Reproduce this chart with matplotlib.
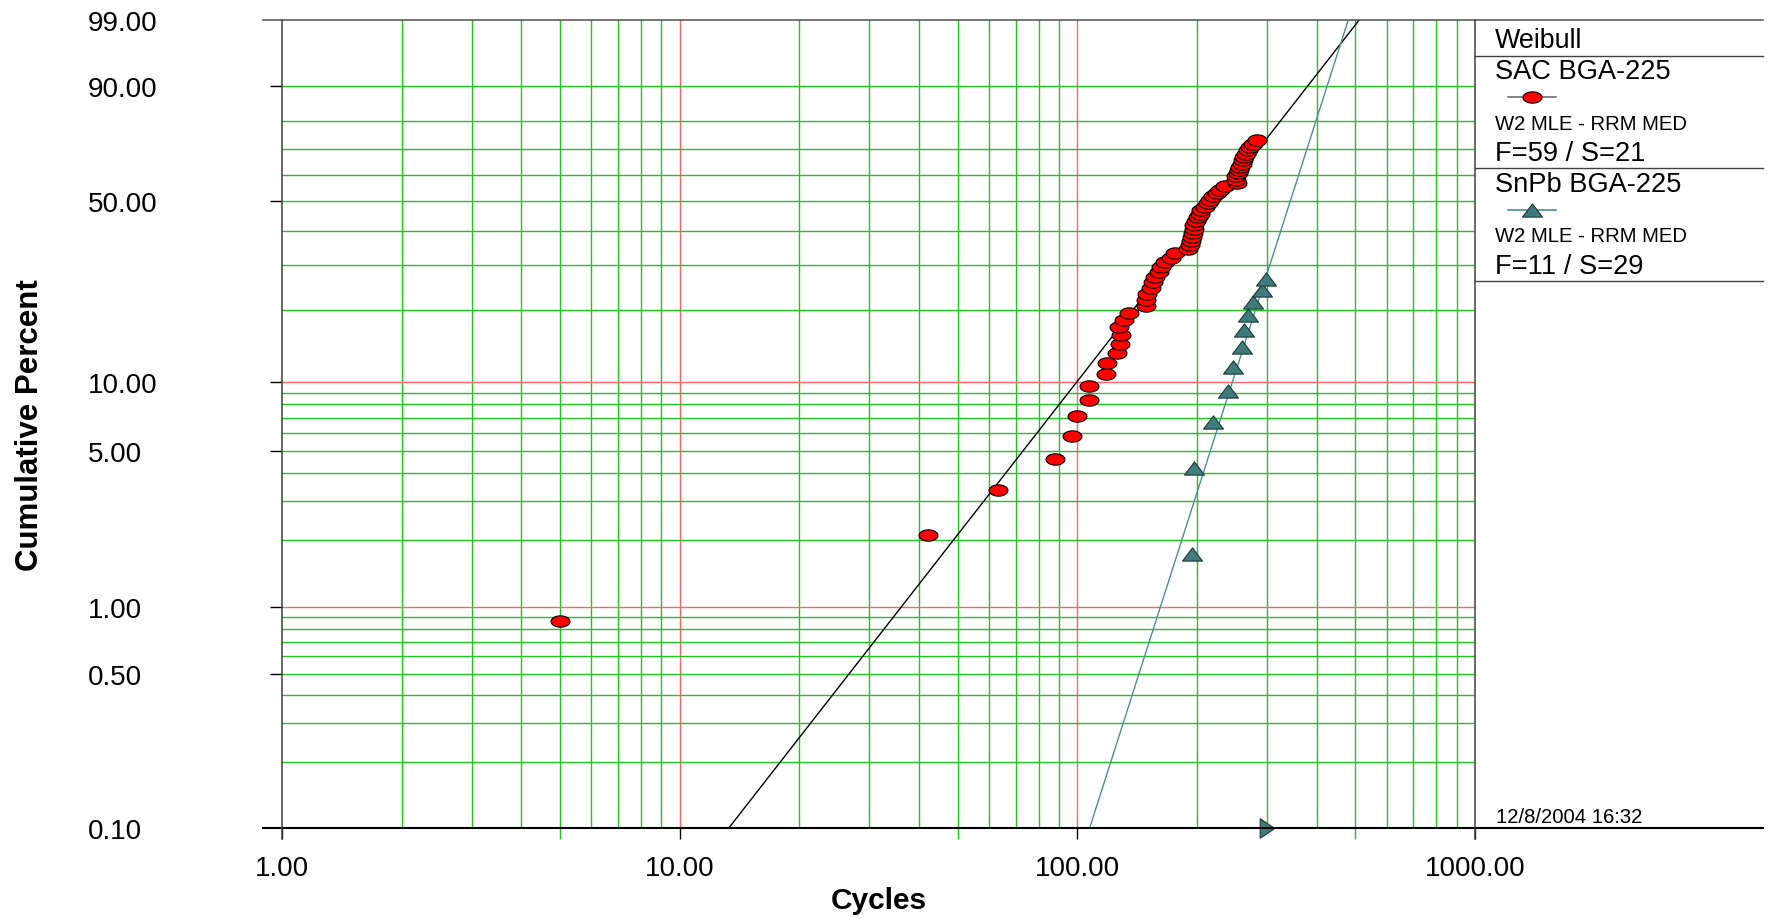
import numpy as np
import matplotlib
matplotlib.use("Agg")
import matplotlib.pyplot as plt
from matplotlib.path import Path

plt.rcParams['font.family'] = ['Liberation Sans', 'DejaVu Sans']

# SAC BGA-225: failure cycles and median-rank plotting positions (%)
sac_cycles = [5, 42, 63, 88, 97, 100, 107, 107, 118, 119,
              126, 128, 128.5, 127, 131, 135, 149, 149, 150, 153,
              155, 157, 160, 162, 166, 172, 176, 190, 192, 193,
              194, 195, 196, 197, 199, 201, 203, 205, 209, 213,
              216, 219, 225, 229, 235, 252, 250, 251, 254, 255,
              257, 259, 261, 263, 265, 269, 271, 277, 283]
sac_pct = [0.87, 2.11, 3.36, 4.60, 5.85, 7.09, 8.33, 9.58, 10.82, 12.06,
           13.31, 14.55, 15.80, 17.04, 18.28, 19.53, 20.77, 22.01, 23.26, 24.50,
           25.75, 26.99, 28.23, 29.48, 30.72, 31.97, 33.21, 34.45, 35.70, 36.94,
           38.18, 39.43, 40.67, 41.92, 43.16, 44.40, 45.65, 46.89, 48.13, 49.38,
           50.62, 51.87, 53.11, 54.35, 55.60, 56.84, 58.08, 59.33, 60.57, 61.82,
           63.06, 64.30, 65.55, 66.79, 68.03, 69.28, 70.52, 71.77, 73.01]

# SnPb BGA-225
snpb_cycles = [194, 197, 219, 239, 247, 259, 262, 268, 276, 291, 299]
snpb_pct = [1.73, 4.21, 6.68, 9.16, 11.63, 14.11, 16.58, 19.06, 21.53, 24.01, 26.49]
suspension_cycles = [300]

# 2-parameter Weibull fits (beta, eta)
sac_fit = (2.31, 264.0)
snpb_fit = (5.63, 366.0)

y_major = [0.1, 0.5, 1, 5, 10, 50, 90, 99]
y_labels = ['0.10', '0.50', '1.00', '5.00', '10.00', '50.00', '90.00', '99.00']
y_grid_green = [0.2, 0.3, 0.4, 0.5, 0.6, 0.7, 0.8, 0.9,
                2, 3, 4, 5, 6, 7, 8, 9,
                20, 30, 40, 50, 60, 70, 80, 90]
y_grid_red = [1, 10]
x_major = [1, 10, 100, 1000]
x_labels = ['1.00', '10.00', '100.00', '1000.00']
x_grid_green = [m * d for d in (1, 10, 100) for m in range(2, 10)]
x_grid_red = [10, 100]

GREEN = '#1fc41f'
RED = '#ff6464'
TEAL = '#3f7b7b'
TEAL_LINE = '#4d8c98'

W, H = 1776, 920


def wb(pct):
    f = np.asarray(pct, dtype=float) / 100.0
    return np.log(-np.log(1.0 - f))


def weibull_pct(t, beta, eta):
    return 100.0 * (1.0 - np.exp(-(np.asarray(t) / eta) ** beta))


theta = np.linspace(0, 2 * np.pi, 64)
ellipse = Path(np.column_stack([np.cos(theta), 0.6 * np.sin(theta)]), closed=True)
tri_up = Path([(-1, -0.66), (1, -0.66), (0, 0.66), (-1, -0.66)], closed=True)
tri_right = Path([(-0.6, -0.8), (-0.6, 0.8), (0.6, 0.0), (-0.6, -0.8)], closed=True)

fig = plt.figure(figsize=(W / 100, H / 100), dpi=100)
left, right, top, bottom = 282, 1475, 21, 829.3
ax = fig.add_axes([left / W, 1 - bottom / H, (right - left) / W, (bottom - top) / H])

ax.set_xscale('log')
ax.set_xlim(1, 1000)
ax.set_ylim(wb(0.1), wb(99))

# grid
for v in x_grid_green:
    c = RED if v in x_grid_red else GREEN
    ax.axvline(v, color=c, lw=1.0, zorder=1)
for v in x_grid_red:
    ax.axvline(v, color=RED, lw=1.0, zorder=1)
for v in y_grid_green:
    ax.axhline(wb(v), color=GREEN, lw=1.0, zorder=1)
for v in y_grid_red:
    ax.axhline(wb(v), color=RED, lw=1.0, zorder=1)

# fitted lines
t = np.logspace(0, 3, 400)
ax.plot(t, wb(np.clip(weibull_pct(t, *sac_fit), 1e-6, 99.9999)), color='black', lw=1.0, zorder=3)
ax.plot(t, wb(np.clip(weibull_pct(t, *snpb_fit), 1e-6, 99.9999)), color=TEAL_LINE, lw=1.0, zorder=3)

# data points
ax.plot(sac_cycles, wb(sac_pct), ls='none', marker=ellipse, ms=13.6,
        mfc='#ff0000', mec='black', mew=0.8, zorder=4)
ax.plot(snpb_cycles, wb(snpb_pct), ls='none', marker=tri_up, ms=14.4,
        mfc=TEAL, mec='#1e3838', mew=0.8, zorder=5)
ax.plot(suspension_cycles, [wb(0.1)] * len(suspension_cycles), ls='none', marker=tri_right,
        ms=14, mfc=TEAL, mec='#1e3838', mew=0.8, zorder=6, clip_on=False)

# ticks and labels
for s in ax.spines.values():
    s.set_visible(False)
ax.set_yticks(wb(y_major))
ax.set_yticklabels(y_labels, ha='left', fontsize=20)
ax.tick_params(axis='y', which='major', length=8.6, width=1.0, pad=131)
for tick, v in zip(ax.yaxis.get_major_ticks(), y_major):
    if v in (0.1, 99):
        tick.tick1line.set_markersize(0)
    else:
        tick.tick1line.set_color(RED if v in y_grid_red else GREEN)

ax.set_xticks(x_major)
ax.set_xticklabels(x_labels, fontsize=20)
ax.xaxis.set_minor_locator(matplotlib.ticker.FixedLocator([5, 50, 500]))
ax.xaxis.set_minor_formatter(matplotlib.ticker.NullFormatter())
ax.tick_params(axis='x', which='major', length=8, width=1.0, pad=11, colors='black')
ax.tick_params(axis='x', which='minor', length=8, width=1.0, color=GREEN)
for tick, v in zip(ax.xaxis.get_major_ticks(), x_major):
    if v in x_grid_red:
        tick.tick1line.set_color(RED)

ax.set_xlabel('Cycles', fontsize=21.5, fontweight='bold')
ax.xaxis.set_label_coords(0.5, -0.071)
ax.set_ylabel('Cumulative Percent', fontsize=22.5, fontweight='bold')
ax.yaxis.set_label_coords(-0.199, 0.5)

# frame and legend panel
panel_r = (1763 - left) / (right - left)
ext_l = (263 - left) / (right - left)
tick_b = (bottom - 840) / (bottom - top)
frame = dict(transform=ax.transAxes, clip_on=False, zorder=7)
ax.plot([ext_l, panel_r], [1, 1], color='#505050', lw=1.1, **frame)
ax.plot([ext_l, panel_r], [0, 0], color='black', lw=1.5, **frame)
ax.plot([0, 0], [tick_b, 1], color='#404040', lw=1.1, **frame)
ax.plot([1, 1], [tick_b, 1], color='#404040', lw=1.1, **frame)
for yp in (56.7, 169.3, 282.3):
    yf = (bottom - yp) / (bottom - top)
    ax.plot([1, panel_r], [yf, yf], color='#404040', lw=1.0, **frame)


def ftext(x, y, s, size):
    fig.text(x / W, 1 - y / H, s, fontsize=size, ha='left', va='center')


ftext(1495, 41, 'Weibull', 19.4)
ftext(1495, 72, 'SAC BGA-225', 19.6)
ftext(1495, 124, 'W2 MLE - RRM MED', 14.6)
ftext(1495, 154, 'F=59 / S=21', 19.6)
ftext(1495, 185, 'SnPb BGA-225', 19.6)
ftext(1495, 237, 'W2 MLE - RRM MED', 14.6)
ftext(1495, 267, 'F=11 / S=29', 19.6)
ftext(1496, 818, '12/8/2004 16:32', 14.6)

fig.add_artist(plt.Line2D([1508 / W, 1556 / W], [1 - 97.7 / H] * 2, color='#707070', lw=1.2))
fig.add_artist(plt.Line2D([1531.7 / W], [1 - 97.7 / H], ls='none', marker=ellipse, ms=13.6,
                          mfc='#ff0000', mec='black', mew=0.8))
fig.add_artist(plt.Line2D([1508 / W, 1556 / W], [1 - 210.7 / H] * 2, color=TEAL_LINE, lw=1.2))
fig.add_artist(plt.Line2D([1531.7 / W], [1 - 210.7 / H], ls='none', marker=tri_up, ms=14.4,
                          mfc=TEAL, mec='#1e3838', mew=0.8))

fig.savefig('out.png', dpi=100)
